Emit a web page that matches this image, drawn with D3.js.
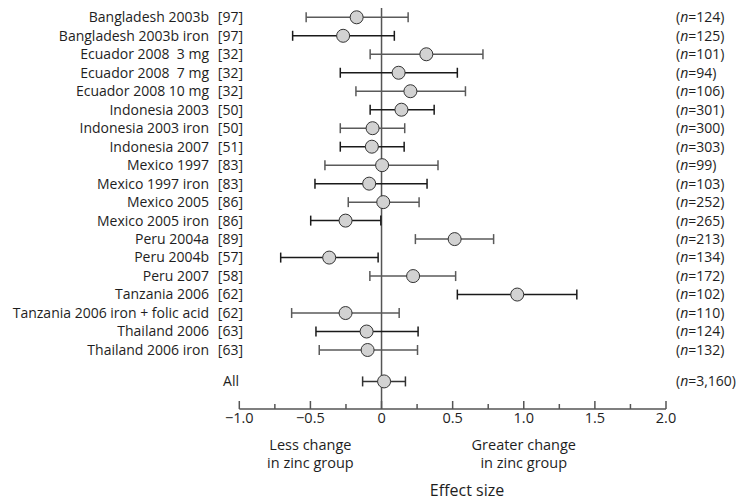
<!DOCTYPE html>
<html lang="en">
<head>
    <meta charset="UTF-8">
    <title>Forest plot</title>
    <script src="https://d3js.org/d3.v7.min.js"></script>
    <style>
        body {
            margin: 0;
            background: #fff;
            font-family: "Open Sans", "Noto Sans", sans-serif;
        }
        text {
            fill: #1e1e1e;
            white-space: pre;
        }
    </style>
</head>
<body>
    <div id="chart"></div>
    <script>
        // Studies, reference numbers, sample sizes
        var studies = ["Bangladesh 2003b", "Bangladesh 2003b iron", "Ecuador 2008  3 mg", "Ecuador 2008  7 mg",
            "Ecuador 2008 10 mg", "Indonesia 2003", "Indonesia 2003 iron", "Indonesia 2007", "Mexico 1997",
            "Mexico 1997 iron", "Mexico 2005", "Mexico 2005 iron", "Peru 2004a", "Peru 2004b", "Peru 2007",
            "Tanzania 2006", "Tanzania 2006 iron + folic acid", "Thailand 2006", "Thailand 2006 iron"];
        var refs = [97, 97, 32, 32, 32, 50, 50, 51, 83, 83, 86, 86, 89, 57, 58, 62, 62, 63, 63];
        var sizes = ["124", "125", "101", "94", "106", "301", "300", "303", "99", "103", "252", "265",
            "213", "134", "172", "102", "110", "124", "132"];

        // Effect sizes with lower / upper confidence limits
        var effect = [-0.175, -0.27, 0.315, 0.12, 0.203, 0.14, -0.063, -0.068, 0.004, -0.087, 0.012, -0.253,
            0.514, -0.368, 0.222, 0.954, -0.253, -0.105, -0.098];
        var lower = [-0.53, -0.625, -0.08, -0.29, -0.18, -0.08, -0.29, -0.29, -0.398, -0.468, -0.234, -0.498,
            0.238, -0.709, -0.082, 0.533, -0.632, -0.461, -0.438];
        var upper = [0.187, 0.09, 0.713, 0.533, 0.59, 0.37, 0.163, 0.159, 0.397, 0.32, 0.264, -0.005,
            0.788, -0.024, 0.521, 1.373, 0.124, 0.257, 0.253];

        // Pooled estimate
        var pooled = {label: "All", n: "3,160", effect: 0.018, lower: -0.133, upper: 0.168};

        var majorTicks = [-1.0, -0.5, 0, 0.5, 1.0, 1.5, 2.0];
        var minorTicks = [-0.75, -0.25, 0.25, 0.75, 1.25, 1.75];

        var width = 744, height = 501;

        var svg = d3.select("#chart")
            .append("svg")
            .attr("width", width)
            .attr("height", height);

        var x = d3.scaleLinear().domain([-1, 2]).range([239.3, 666]);
        var y = d3.scaleLinear().domain([0, 18]).range([17.3, 350]);
        var yAll = y(19.7);
        var axisY = 409;

        var rows = studies.map(function (s, i) {
            return {name: s, ref: refs[i], n: sizes[i], effect: effect[i], lower: lower[i], upper: upper[i], i: i};
        });

        // Zero line
        svg.append("line")
            .attr("x1", x(0)).attr("x2", x(0))
            .attr("y1", 8).attr("y2", axisY)
            .attr("stroke", "#555")
            .attr("stroke-width", 1.5);

        function lineColor(i) {
            return i % 2 === 0 ? "#5a5a5a" : "#1a1a1a";
        }

        function drawRow(g, d, yy, col) {
            g.append("line")
                .attr("x1", x(d.lower)).attr("x2", x(d.upper))
                .attr("y1", yy).attr("y2", yy)
                .attr("stroke", col).attr("stroke-width", 1.5);
            [d.lower, d.upper].forEach(function (v) {
                g.append("line")
                    .attr("x1", x(v)).attr("x2", x(v))
                    .attr("y1", yy - 5).attr("y2", yy + 5)
                    .attr("stroke", col).attr("stroke-width", 1.5);
            });
            g.append("circle")
                .attr("cx", x(d.effect)).attr("cy", yy)
                .attr("r", 6.5)
                .attr("fill", "#d2d2d2")
                .attr("stroke", "#333")
                .attr("stroke-width", 1);
        }

        var marks = svg.append("g");
        rows.forEach(function (d) {
            drawRow(marks, d, y(d.i), lineColor(d.i));
        });
        drawRow(marks, pooled, yAll, "#333");

        // Labels on the left
        var labels = svg.append("g").attr("font-size", 14);
        labels.selectAll(".name")
            .data(rows)
            .enter().append("text")
            .attr("class", "name")
            .attr("text-anchor", "end")
            .attr("x", 209)
            .attr("y", function (d) {return y(d.i);})
            .attr("dy", "0.35em")
            .text(function (d) {return d.name;});

        labels.selectAll(".ref")
            .data(rows)
            .enter().append("text")
            .attr("class", "ref")
            .attr("text-anchor", "end")
            .attr("x", 243)
            .attr("y", function (d) {return y(d.i);})
            .attr("dy", "0.35em")
            .text(function (d) {return "[" + d.ref + "]";});

        labels.append("text")
            .attr("text-anchor", "end")
            .attr("x", 239)
            .attr("y", yAll)
            .attr("dy", "0.35em")
            .text(pooled.label);

        // Sample sizes on the right
        var nText = svg.append("g").attr("font-size", 14);
        function addN(val, yy) {
            var t = nText.append("text")
                .attr("x", 676)
                .attr("y", yy)
                .attr("dy", "0.35em");
            t.append("tspan").text("(");
            t.append("tspan").attr("font-style", "italic").text("n");
            t.append("tspan").text("=" + val + ")");
        }
        rows.forEach(function (d) {addN(d.n, y(d.i));});
        addN(pooled.n, yAll);

        // Axis
        var axis = svg.append("g");
        axis.append("line")
            .attr("x1", x(-1)).attr("x2", x(2))
            .attr("y1", axisY).attr("y2", axisY)
            .attr("stroke", "#555").attr("stroke-width", 1.5);
        axis.selectAll(".major")
            .data(majorTicks)
            .enter().append("line")
            .attr("x1", function (d) {return x(d);})
            .attr("x2", function (d) {return x(d);})
            .attr("y1", axisY - 8).attr("y2", axisY)
            .attr("stroke", "#555").attr("stroke-width", 1.5);
        axis.selectAll(".minor")
            .data(minorTicks)
            .enter().append("line")
            .attr("x1", function (d) {return x(d);})
            .attr("x2", function (d) {return x(d);})
            .attr("y1", axisY - 5).attr("y2", axisY)
            .attr("stroke", "#555").attr("stroke-width", 1.5);

        var fmt = function (d) {
            if (d === 0) return "0";
            return d3.format(".1f")(d).replace("-", "\u2212");
        };
        axis.selectAll(".tlabel")
            .data(majorTicks)
            .enter().append("text")
            .attr("text-anchor", "middle")
            .attr("font-size", 14.5)
            .attr("x", function (d) {return x(d);})
            .attr("y", 418)
            .attr("dy", "0.35em")
            .text(fmt);

        // Direction notes
        var notes = svg.append("g").attr("font-size", 14.5).attr("text-anchor", "middle");
        notes.append("text").attr("x", x(-0.5)).attr("y", 445).attr("dy", "0.35em").text("Less change");
        notes.append("text").attr("x", x(-0.5)).attr("y", 463).attr("dy", "0.35em").text("in zinc group");
        notes.append("text").attr("x", x(1.0)).attr("y", 445).attr("dy", "0.35em").text("Greater change");
        notes.append("text").attr("x", x(1.0)).attr("y", 463).attr("dy", "0.35em").text("in zinc group");

        svg.append("text")
            .attr("text-anchor", "middle")
            .attr("font-size", 16)
            .attr("x", 467)
            .attr("y", 490)
            .attr("dy", "0.35em")
            .text("Effect size");
    </script>
</body>
</html>
